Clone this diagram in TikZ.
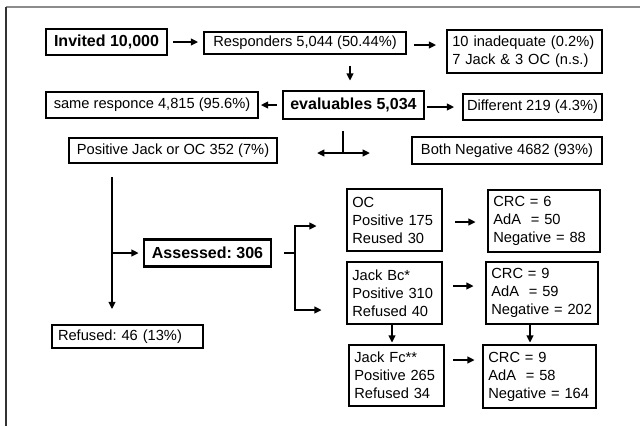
\documentclass[tikz,border=0pt]{standalone}
\usepackage{fontspec}
\setmainfont{Liberation Sans}
\usetikzlibrary{arrows.meta,calc}
\frenchspacing
\begin{document}
\begin{tikzpicture}[x=0.75pt,y=-0.75pt,
  box/.style={draw, line width=1.25pt, inner sep=0pt, font=\fontsize{11}{13.5}\selectfont, anchor=center},
  midbox/.style={box, line width=1.6pt},
  thickbox/.style={box, line width=2pt},
  boldtxt/.style={font=\fontsize{12}{14}\selectfont\bfseries},
  multi/.style={align=left, inner xsep=4pt},
  arr/.style={line width=1.45pt, -{Triangle[length=5.5pt,width=5pt]}},
  conn/.style={line width=1.45pt}
]
\useasboundingbox (0,0) rectangle (640,426);
% frame
\draw[line width=1.1pt, black!45] (6,7) -- (640,7);
\draw[line width=1.1pt, black!80] (6,7) -- (6,426);

% top rows
\node[thickbox, boldtxt, minimum width=90.75pt, minimum height=19.5pt] (inv) at (106.5,42) {Invited 10,000};
\node[box, minimum width=151.5pt, minimum height=16.5pt] (resp) at (305,43) {Responders 5,044 (50.44\%)};
\node[box, multi, text width=108.25pt, minimum height=32.25pt] (inad) at (524.5,51.5) {10 inadequate (0.2\%)\\7 Jack \& 3 OC (n.s.)};
\node[box, minimum width=159pt, minimum height=19.5pt] (same) at (152,105) {same responce 4,815 (95.6\%)};
\node[thickbox, boldtxt, minimum width=105.75pt, minimum height=21pt] (eval) at (353.5,105) {evaluables 5,034};
\node[box, minimum width=104.25pt, minimum height=19.5pt] (diff) at (532.5,107) {Different 219 (4.3\%)};
\node[midbox, minimum width=156pt, minimum height=18.75pt] (pos) at (173,150.5) {Positive Jack or OC 352 (7\%)};
\node[midbox, minimum width=142.5pt, minimum height=20.25pt] (neg) at (507,150.5) {Both Negative 4682 (93\%)};

% lower part
\node[thickbox, boldtxt, minimum width=95.25pt, minimum height=20.25pt] (ass) at (207.5,253) {Assessed: 306};
\node[box, multi, inner xsep=4.5pt, text width=104.25pt, minimum height=17.25pt] (ref) at (127.5,336.5) {Refused: 46 (13\%)};
\node[thickbox, multi, text width=63.25pt, minimum height=46.5pt] (oc) at (394.5,220) {OC\\Positive 175\\Reused 30};
\node[thickbox, multi, text width=76pt, minimum height=46.5pt] (crc1) at (544,221) {CRC = 6\\AdA~ = 50\\Negative = 88};
\node[thickbox, multi, text width=63.25pt, minimum height=46.5pt] (bc) at (394.5,293) {Jack Bc*\\Positive 310\\Refused 40};
\node[thickbox, multi, text width=76pt, minimum height=46.5pt] (crc2) at (542,293) {CRC = 9\\AdA~ = 59\\Negative = 202};
\node[thickbox, multi, text width=63.25pt, minimum height=45.75pt] (fc) at (396.5,375.5) {Jack Fc**\\Positive 265\\Refused 34};
\node[thickbox, multi, text width=76.75pt, minimum height=47.25pt] (crc3) at (539.5,376.5) {CRC = 9\\AdA~ = 58\\Negative = 164};

% connectors top
\draw[arr, shorten <=3.75pt, shorten >=3.75pt] (inv.east) -- (inv.east -| resp.west);
\coordinate (r1) at ($(resp.east)+(0,2)$);
\draw[arr, shorten <=5.25pt, shorten >=7.5pt] (r1) -- (r1 -| inad.west);
\coordinate (ev1) at ($(eval.north)+(-3.5,0)$);
\draw[arr, shorten <=8.25pt, shorten >=6.75pt] (ev1 |- resp.south) -- (ev1);
\draw[arr, shorten <=3.75pt, shorten >=1.5pt] (eval.west) -- (same.east);
\coordinate (e2) at ($(eval.east)+(0,2)$);
\draw[arr, shorten <=1.5pt, shorten >=6pt] (e2) -- (e2 -| diff.west);
\coordinate (tj) at (343,153);
\draw[conn, shorten <=8.25pt] (tj |- eval.south) -- (tj);
\draw[arr, shorten >=29.25pt] (tj) -- (tj -| pos.east);
\draw[arr, shorten >=30.75pt] (tj) -- (tj -| neg.west);

% left vertical
\coordinate (v1) at (112,0);
\draw[arr, shorten <=9.75pt, shorten >=11.25pt] (v1 |- pos.south) -- (v1 |- ref.north);
\draw[arr, shorten >=3pt] (v1 |- ass.west) -- (ass.west);

% bracket
\coordinate (bx) at (295,0);
\draw[conn, shorten <=9pt] (ass.east) -- (bx |- ass.east);
\coordinate (ocin) at ($(oc.west)+(0,6)$);
\coordinate (bcin) at ($(bc.west)+(0,17)$);
\draw[arr, shorten >=21.75pt] (bx |- ass.east) |- (ocin);
\draw[arr, shorten >=18pt] (bx |- ass.east) |- (bcin);

% right arrows
\coordinate (o1) at ($(oc.east)+(0,2)$);
\draw[arr, shorten <=9pt, shorten >=8.25pt] (o1) -- (o1 -| crc1.west);
\coordinate (b1) at ($(bc.east)+(0,-7)$);
\draw[arr, shorten <=7.5pt, shorten >=8.25pt] (b1) -- (b1 -| crc2.west);
\coordinate (f1) at ($(fc.east)+(0,-15.5)$);
\draw[arr, shorten <=6pt, shorten >=5.25pt] (f1) -- (f1 -| crc3.west);
\coordinate (b2) at ($(bc.south)+(-2.5,0)$);
\draw[arr, shorten >=0.75pt] (b2) -- (b2 |- fc.north);
\coordinate (c2) at ($(crc2.south)+(-12,0)$);
\draw[arr, shorten >=0.75pt] (c2) -- (c2 |- crc3.north);
\end{tikzpicture}
\end{document}
